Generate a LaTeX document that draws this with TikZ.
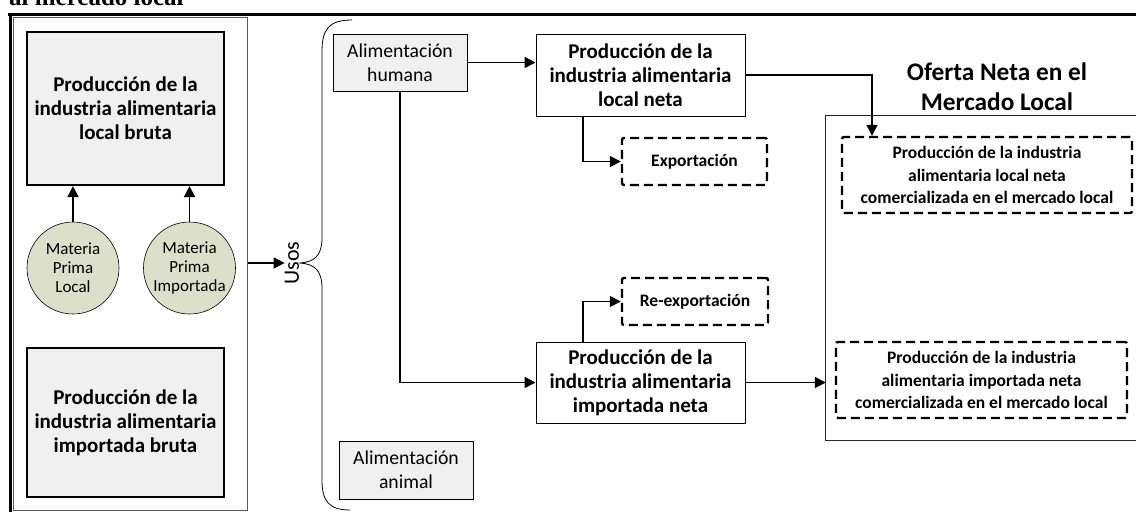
\documentclass[tikz,border=0pt]{standalone}
\usepackage{fontspec}
\setmainfont{Carlito}
\newfontfamily\tnrfont{Liberation Serif}
\usetikzlibrary{arrows.meta}
\definecolor{boxgray}{HTML}{F0F0F0}
\definecolor{circfill}{HTML}{DCDFCA}
\definecolor{panelline}{HTML}{5A5A5A}
\begin{document}
\begin{tikzpicture}[x=1pt,y=-1pt,
  every node/.style={inner sep=0pt, align=center},
  bigbox/.style={draw, line width=2.2pt, fill=boxgray, minimum width=197pt,
    font=\fontsize{21}{24}\selectfont\bfseries},
  usebox/.style={draw, line width=0.8pt, fill=boxgray, minimum width=134pt, minimum height=57pt,
    font=\fontsize{19.7}{24}\selectfont},
  netbox/.style={draw, line width=1pt, fill=white, minimum width=209pt, minimum height=81pt,
    font=\fontsize{21}{24}\selectfont\bfseries},
  dashbox/.style={draw, line width=2.4pt, dash pattern=on 9pt off 5pt, rounded corners=2pt,
    font=\fontsize{17.5}{22.5}\selectfont\bfseries},
  matcircle/.style={circle, draw, line width=0.6pt, fill=circfill, minimum size=92pt,
    font=\fontsize{17}{19}\selectfont},
  arr/.style={line width=1.6pt, -{Triangle[length=11pt,width=11pt]}}
]
\useasboundingbox (0,0) rectangle (1136,512);
% cut-off caption
\node[anchor=base west, font=\tnrfont\fontsize{25}{25}\selectfont\bfseries] (cap) at (9,5) {al mercado local};
% outer frame
\draw[line width=3pt] (8,14) -- (1136,14);
\draw[line width=3pt] (10,14) -- (10,512);
% left panel
\node[draw=panelline, line width=1pt, minimum width=234pt, minimum height=492.5pt] (panel) at (130,263.75) {};
\node[bigbox, minimum height=153pt] (lbruta) at (125.5,108.5) {Producción de la\\industria alimentaria\\local bruta};
\node[bigbox, minimum height=149pt] (ibruta) at (125.5,422.5) {Producción de la\\industria alimentaria\\importada bruta};
\node[matcircle] (mpl) at (73,268) {Materia\\Prima\\Local};
\node[matcircle] (mpi) at (189.5,268) {Materia\\Prima\\Importada};
\draw[arr] (mpl.north) -- (mpl.north |- lbruta.south);
\draw[arr] (mpi.north) -- (mpi.north |- lbruta.south);
% usos
\node[rotate=90, font=\fontsize{22}{22}\selectfont] (usos) at (292,263) {Usos};
\draw[arr] (panel.east |- usos) -- (usos.north);
\draw[line width=0.8pt] (352,20) .. controls (328,20) and (322,30) .. (322,52)
  -- (322,238) .. controls (322,256) and (314,262) .. (300,263)
  .. controls (314,264) and (322,270) .. (322,288)
  -- (322,480) .. controls (322,500) and (328,510) .. (350,510);
\node[usebox] (humana) at (400,62.5) {Alimentación\\humana};
\node[usebox, minimum height=58pt] (animal) at (406,470) {Alimentación\\animal};
% net production
\node[netbox, minimum height=82pt] (lneta) at (640.5,75) {Producción de la\\industria alimentaria\\local neta};
\node[netbox] (ineta) at (640.5,382.5) {Producción de la\\industria alimentaria\\importada neta};
\node[dashbox, minimum width=145pt, minimum height=47pt] (expo) at (694.5,161.5) {Exportación};
\node[dashbox, minimum width=146pt, minimum height=47pt] (reexpo) at (695,301.5) {Re-exportación};
\draw[arr] (humana.east) -- (humana.east -| lneta.west);
\draw[arr] (humana.south) |- (ineta.west);
\draw[arr] ([xshift=-57.5pt]lneta.south) |- (expo.west);
\draw[arr] ([xshift=-57.5pt]ineta.north) |- (reexpo.west);
% oferta
\node[font=\fontsize{25.3}{30}\selectfont\bfseries] (title) at (997,87) {Oferta Neta en el\\Mercado Local};
\node[minimum width=330pt, minimum height=324pt] (oferta) at (991,278) {};
\draw[line width=1.2pt, draw=black!85] (oferta.north east) -- (oferta.north west) -- (oferta.south west) -- (oferta.south east);
\node[dashbox, minimum width=290pt, minimum height=76pt] (lcom) at (987,175) {Producción de la industria\\alimentaria local neta\\comercializada en el mercado local};
\node[dashbox, minimum width=291pt, minimum height=76pt] (icom) at (981.5,380) {Producción de la industria\\alimentaria importada neta\\comercializada en el mercado local};
\draw[arr, line width=1.2pt] (lneta.east) -| ([xshift=-115pt]lcom.north);
\draw[arr] (ineta.east) -- (ineta.east -| oferta.west);
\end{tikzpicture}
\end{document}
